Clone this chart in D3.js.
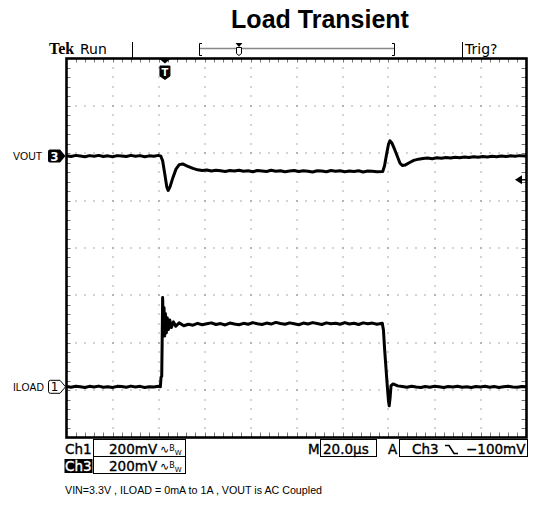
<!DOCTYPE html>
<html>
<head>
<meta charset="utf-8">
<script src="https://cdn.jsdelivr.net/npm/d3@7"></script>
<style>
  body { margin: 0; background: #fff; }
  text { font-family: "DejaVu Sans", sans-serif; }
</style>
</head>
<body>
<script>
// scope settings
var usPerDiv = 20;          // M 20.0us
var mvPerDiv = 200;         // Ch1 / Ch3 200mV
var ch3Offset = 1.94;       // VOUT ground marker, divisions above centre
var ch1Offset = -2.93;      // ILOAD ground marker
var trigTime = 42.8;        // us from left edge
var trigLevel = -100;       // mV on Ch3

// VOUT (Ch3) trace: [time us, mV]
var voutTrace = [
  [0,1],[2,-2],[4,3],[6,0],[8,-3],[10,2],[12,-1],[14,3],[16,-2],[18,1],[20,-3],[22,2],
  [24,0],[26,-2],[28,3],[30,-1],[32,2],[34,-3],[36,1],[38,-1],[40,3],[41,0],
  [41.8,-20],[42.8,-80],[43.6,-130],[44.2,-145],[45,-130],[46.3,-90],[47.6,-55],[49,-36],
  [50.5,-33],[52.5,-42],[55,-52],
  [57,-58],[59,-61],[61,-59],[63,-63],[65,-60],[67,-62],[69,-65],[71,-61],[73,-63],
  [75,-60],[77,-64],[79,-62],[81,-66],[83,-61],[85,-63],[87,-65],[89,-60],[91,-64],
  [93,-62],[95,-66],[97,-63],[99,-61],[101,-65],[103,-62],[105,-64],[107,-67],[109,-62],
  [111,-63],[113,-66],[115,-61],[117,-64],[119,-62],[121,-66],[123,-63],[125,-65],
  [127,-62],[129,-67],[131,-63],[133,-64],[135,-66],[137.5,-65],
  [138.3,-40],[139.2,10],[140,50],[140.6,65],[141.5,55],[142.8,25],[144,-5],[145,-30],
  [146,-40],[147.2,-38],[149,-28],[151,-18],[153,-13],
  [155,-10],[157,-8],[159,-11],[161,-7],[163,-9],[165,-6],[167,-8],[169,-5],[171,-7],
  [173,-4],[175,-6],[177,-3],[179,-5],[181,-2],[183,-4],[185,-1],[187,-3],[189,0],
  [191,-2],[193,1],[195,-1],[197,2],[199,0],[200,1]
];

// ILOAD (Ch1) trace: [time us, mV]
var iloadTrace = [
  [0,1],[2,-2],[4,2],[6,0],[8,-3],[10,2],[12,-1],[14,3],[16,-2],[18,0],[20,-3],[22,2],
  [24,1],[26,-2],[28,3],[30,-1],[32,2],[34,-3],[36,0],[38,-1],[40,2],[40.8,0],
  [41.1,40],[41.4,45],[41.6,200],[41.8,377],[42.1,250],[42.4,335],[42.7,215],[43,310],
  [43.4,228],[43.8,292],[44.3,242],[44.9,282],[45.6,250],[46.5,274],[47.5,256],[49,270],
  [51,258],[53,264],[55,260],[57,268],[59,262],[61,266],[63,270],[65,263],[67,267],
  [69,261],[71,269],[73,265],[75,262],[77,268],[79,264],[81,271],[83,266],[85,263],
  [87,269],[89,265],[91,272],[93,267],[95,264],[97,270],[99,266],[101,262],[103,269],
  [105,265],[107,271],[109,267],[111,263],[113,270],[115,266],[117,268],[119,264],
  [121,271],[123,265],[125,268],[127,263],[129,270],[131,266],[133,269],[135,264],
  [137.3,268],
  [137.8,240],[138.3,160],[138.9,80],[139.5,0],[140,-60],[140.3,-80],[140.7,-45],
  [141.1,5],[142,12],[144,4],[146,1],[148,-2],[150,2],[152,-1],[154,-3],[156,1],
  [158,-2],[160,2],[162,0],[164,-3],[166,1],[168,-1],[170,2],[172,-2],[174,0],[176,-3],
  [178,1],[180,-1],[182,2],[184,-2],[186,1],[188,-3],[190,0],[192,2],[194,-1],[196,-2],
  [198,1],[200,0]
];

var W = 533, H = 505;
var plot = {left: 66.5, right: 526.5, top: 58.5, bottom: 437.5};

var svg = d3.select("body").append("svg")
            .attr("width", W)
            .attr("height", H);

var xScale = d3.scaleLinear()
               .domain([0, 10 * usPerDiv])
               .range([plot.left, plot.right]);
var yScale = d3.scaleLinear()
               .domain([-4, 4])
               .range([plot.bottom, plot.top]);

/***Title***/
svg.append("text")
   .attr("x", 320).attr("y", 28)
   .attr("text-anchor", "middle")
   .style("font-family", "'Liberation Sans', Arial, sans-serif")
   .style("font-weight", "bold")
   .style("font-size", "25px")
   .text("Load Transient");

/***Status bar***/
svg.append("text").attr("x", 49).attr("y", 54)
   .style("font-family", "'Liberation Serif', serif")
   .style("font-weight", "bold").style("font-size", "16px")
   .text("Tek");
svg.append("text").attr("x", 80).attr("y", 54)
   .style("font-size", "14px").text("Run");
svg.append("text").attr("x", 465).attr("y", 54)
   .style("font-size", "14px").text("Trig?");
[132.5, 462.5].forEach(function(x) {
  svg.append("line").attr("x1", x).attr("x2", x).attr("y1", 42).attr("y2", 58)
     .attr("stroke", "#000").attr("stroke-width", 1);
});
// record bar
svg.append("line").attr("x1", 199).attr("x2", 395).attr("y1", 48.5).attr("y2", 48.5)
   .attr("stroke", "#888").attr("stroke-width", 1.5);
svg.append("path").attr("d", "M202,43.5H199.5V55.5H202M392,43.5H394.5V55.5H392")
   .attr("fill", "none").attr("stroke", "#000").attr("stroke-width", 1);
svg.append("path").attr("d", "M235.5,43L242.5,43L239,47Z").attr("fill", "#000");
svg.append("path").attr("d", "M236.5,47.5H241.5V53.5L239,55.5L236.5,53.5Z")
   .attr("fill", "#fff").attr("stroke", "#000").attr("stroke-width", 1);

/***Grid dots***/
var dots = svg.append("g").attr("fill", "#555");
d3.range(1, 10).forEach(function(k) {
  d3.range(1, 40).forEach(function(j) {
    dots.append("rect")
        .attr("x", Math.round(xScale(k * usPerDiv)) - 0.5)
        .attr("y", Math.round(yScale(-4 + j * 0.2)) - 0.5)
        .attr("width", 1).attr("height", 1);
  });
});
d3.range(-3, 4).forEach(function(k) {
  d3.range(1, 50).forEach(function(j) {
    dots.append("rect")
        .attr("x", Math.round(xScale(j * usPerDiv / 5)) - 0.5)
        .attr("y", Math.round(yScale(k)) - 0.5)
        .attr("width", 1).attr("height", 1);
  });
});

/***Edge ticks***/
var ticks = svg.append("g").attr("stroke", "#777").attr("stroke-width", 1);
d3.range(1, 50).forEach(function(j) {
  var x = Math.round(xScale(j * usPerDiv / 5)) + 0.5;
  ticks.append("line").attr("x1", x).attr("x2", x)
       .attr("y1", plot.top).attr("y2", plot.top + 4);
  ticks.append("line").attr("x1", x).attr("x2", x)
       .attr("y1", plot.bottom).attr("y2", plot.bottom - 5);
});
d3.range(1, 40).forEach(function(j) {
  var y = Math.round(yScale(-4 + j * 0.2)) + 0.5;
  ticks.append("line").attr("x1", plot.left).attr("x2", plot.left + 4)
       .attr("y1", y).attr("y2", y);
  ticks.append("line").attr("x1", plot.right - 5).attr("x2", plot.right)
       .attr("y1", y).attr("y2", y);
});

/***Frame***/
svg.append("rect")
   .attr("x", plot.left).attr("y", plot.top)
   .attr("width", plot.right - plot.left)
   .attr("height", plot.bottom - plot.top)
   .attr("fill", "none").attr("stroke", "#000").attr("stroke-width", 2.6);

/***Traces***/
var traceLine = function(offset) {
  return d3.line()
           .x(function(d) { return xScale(d[0]); })
           .y(function(d) { return yScale(offset + d[1] / mvPerDiv); });
};
svg.append("path").datum(voutTrace)
   .attr("d", traceLine(ch3Offset))
   .attr("fill", "none").attr("stroke", "#000")
   .attr("stroke-width", 3).attr("stroke-linejoin", "round");
svg.append("path").datum(iloadTrace)
   .attr("d", traceLine(ch1Offset))
   .attr("fill", "none").attr("stroke", "#000")
   .attr("stroke-width", 3).attr("stroke-linejoin", "round");

/***Trigger position marker***/
var xT = xScale(trigTime);
svg.append("path")
   .attr("d", "M" + (xT - 6) + "," + plot.top + "L" + (xT + 6) + "," + plot.top + "L" + xT + "," + (plot.top + 5) + "Z")
   .attr("fill", "#000");
svg.append("path")
   .attr("d", "M" + (xT - 5) + ",66H" + (xT + 5) + "V76L" + xT + ",79.5L" + (xT - 5) + ",76Z")
   .attr("fill", "#000").attr("stroke", "#000").attr("stroke-linejoin", "round");
svg.append("text").attr("x", xT).attr("y", 76)
   .attr("text-anchor", "middle").attr("fill", "#fff")
   .style("font-weight", "bold").style("font-size", "10px").text("T");

/***Trigger level marker***/
var yL = yScale(ch3Offset + trigLevel / mvPerDiv);
svg.append("path")
   .attr("d", "M515," + yL + "L522," + (yL - 4.5) + "L522," + (yL + 4.5) + "Z")
   .attr("fill", "#000");
svg.append("line").attr("x1", 521).attr("x2", 526).attr("y1", yL).attr("y2", yL)
   .attr("stroke", "#000").attr("stroke-width", 1.4);

/***Channel ground markers***/
var y3 = yScale(ch3Offset), y1 = yScale(ch1Offset);
svg.append("path")
   .attr("d", "M50," + (y3 - 6.5) + "H60L65.5," + y3 + "L60," + (y3 + 6.5) + "H50Q48," + (y3 + 6.5) + " 48," + (y3 + 4.5) + "V" + (y3 - 4.5) + "Q48," + (y3 - 6.5) + " 50," + (y3 - 6.5) + "Z")
   .attr("fill", "#000");
svg.append("text").attr("x", 54.5).attr("y", y3 + 4.5)
   .attr("text-anchor", "middle").attr("fill", "#fff")
   .style("font-weight", "bold").style("font-size", "12px").text("3");
svg.append("path")
   .attr("d", "M50.5," + (y1 - 6.5) + "H60L65.5," + y1 + "L60," + (y1 + 6.5) + "H50.5Q48.5," + (y1 + 6.5) + " 48.5," + (y1 + 4.5) + "V" + (y1 - 4.5) + "Q48.5," + (y1 - 6.5) + " 50.5," + (y1 - 6.5) + "Z")
   .attr("fill", "#fff").attr("stroke", "#000").attr("stroke-width", 1);
svg.append("text").attr("x", 54.5).attr("y", y1 + 4.5)
   .attr("text-anchor", "middle").attr("fill", "#000")
   .style("font-size", "12px").text("1");

svg.append("text").attr("x", 13).attr("y", y3 + 3.8)
   .style("font-family", "'Liberation Sans', Arial, sans-serif")
   .style("font-size", "10.5px").text("VOUT");
svg.append("text").attr("x", 13).attr("y", y1 + 3.8)
   .style("font-family", "'Liberation Sans', Arial, sans-serif")
   .style("font-size", "10.3px").text("ILOAD");

/***Readouts***/
var box = function(x, y, w, h) {
  svg.append("rect").attr("x", x).attr("y", y).attr("width", w).attr("height", h)
     .attr("fill", "none").attr("stroke", "#000").attr("stroke-width", 1);
};
var readout = function(x, y, s) {
  return svg.append("text").attr("x", x).attr("y", y)
            .style("font-size", "13.5px")
            .attr("stroke", "#000").attr("stroke-width", 0.35)
            .text(s);
};
var bwSymbol = function(x, y) {
  var t = svg.append("text").attr("x", x).attr("y", y).style("font-size", "11px");
  t.append("tspan").text("\u223F");
  t.append("tspan").style("font-size", "8px").attr("dy", -2).text("B");
  t.append("tspan").style("font-size", "7px").attr("dy", 4).text("W");
};

readout(65, 454, "Ch1");
box(93.5, 439.5, 92, 17);
readout(109, 454, "200mV");
bwSymbol(160, 453);

svg.append("rect").attr("x", 64.5).attr("y", 459).attr("width", 28).attr("height", 14).attr("fill", "#000");
readout(65, 471, "Ch3").attr("fill", "#fff").attr("stroke", "#fff");
box(93.5, 456.5, 92, 17);
readout(109, 471, "200mV");
bwSymbol(160, 470);

readout(308, 454, "M");
box(320.5, 439.5, 56, 17);
readout(323, 454, "20.0\u00B5s");

readout(388, 454, "A");
box(399.5, 439.5, 128, 17);
readout(412, 454, "Ch3");
svg.append("path").attr("d", "M445,445.5H449L454,453.5H458")
   .attr("fill", "none").attr("stroke", "#000").attr("stroke-width", 1.6);
readout(466, 454, "\u2212100mV");

/***Footnote***/
svg.append("text").attr("x", 65).attr("y", 494)
   .style("font-family", "'Liberation Sans', Arial, sans-serif")
   .style("font-size", "10.7px")
   .text("VIN=3.3V , ILOAD = 0mA to 1A , VOUT is AC Coupled");
</script>
</body>
</html>
